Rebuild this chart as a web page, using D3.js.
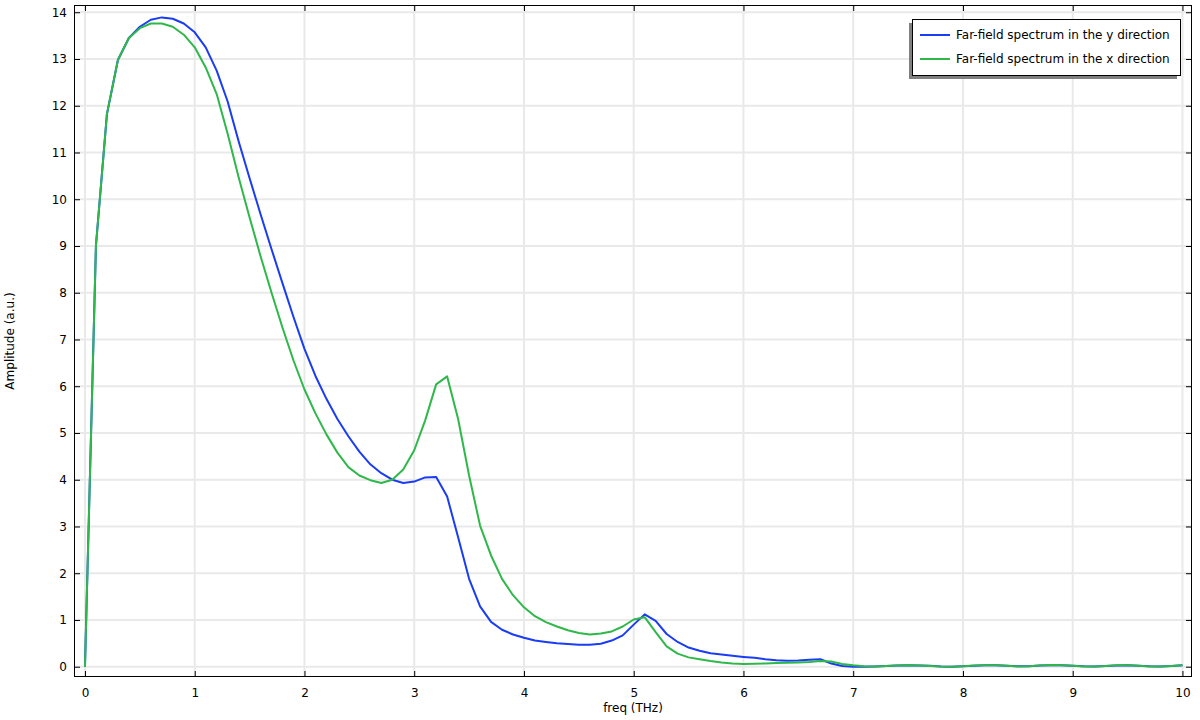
<!DOCTYPE html>
<meta charset="utf-8">
<style>
    body {
        margin: 0;
        background: #fff;
        font: 12px "DejaVu Sans", sans-serif;
    }
    .grid line {
        stroke: #e9e9e9;
        stroke-width: 2px;
    }
    .axis text {
        font: 12px "DejaVu Sans", sans-serif;
        fill: #000;
    }
    .axis line {
        stroke: #000;
    }
    .line {
        fill: none;
        stroke-width: 2px;
        stroke-linejoin: round;
    }
</style>
<body>
<script src="https://d3js.org/d3.v7.min.js"></script>
<script>
    // frequency samples (THz)
    const freq = [0, 0.1, 0.2, 0.3, 0.4, 0.5, 0.6, 0.7, 0.8, 0.9,
        1, 1.1, 1.2, 1.3, 1.4, 1.5, 1.6, 1.7, 1.8, 1.9,
        2, 2.1, 2.2, 2.3, 2.4, 2.5, 2.6, 2.7, 2.8, 2.9,
        3, 3.1, 3.2, 3.3, 3.4, 3.5, 3.6, 3.7, 3.8, 3.9,
        4, 4.1, 4.2, 4.3, 4.4, 4.5, 4.6, 4.7, 4.8, 4.9,
        5, 5.1, 5.2, 5.3, 5.4, 5.5, 5.6, 5.7, 5.8, 5.9,
        6, 6.1, 6.2, 6.3, 6.4, 6.5, 6.6, 6.7, 6.8, 6.9,
        7, 7.1, 7.2, 7.3, 7.4, 7.5, 7.6, 7.7, 7.8, 7.9,
        8, 8.1, 8.2, 8.3, 8.4, 8.5, 8.6, 8.7, 8.8, 8.9,
        9, 9.1, 9.2, 9.3, 9.4, 9.5, 9.6, 9.7, 9.8, 9.9, 10]

    // far-field spectrum, y direction
    const ampY = [0, 9.01, 11.82, 12.98, 13.45, 13.69, 13.84, 13.89, 13.86, 13.76,
        13.57, 13.25, 12.75, 12.09, 11.24, 10.45, 9.68, 8.93, 8.2, 7.48,
        6.8, 6.22, 5.73, 5.3, 4.93, 4.6, 4.33, 4.14, 4.0, 3.93,
        3.96, 4.05, 4.06, 3.64, 2.77, 1.88, 1.29, 0.96, 0.79, 0.69,
        0.62, 0.56, 0.53, 0.5, 0.485, 0.47, 0.47, 0.49, 0.56, 0.67,
        0.9, 1.12, 0.98, 0.7, 0.53, 0.41, 0.34, 0.29, 0.26, 0.235,
        0.21, 0.19, 0.16, 0.14, 0.13, 0.135, 0.15, 0.16, 0.07, 0.015,
        0, 0, 0.005, 0.015, 0.025, 0.03, 0.028, 0.018, 0.006, 0,
        0.01, 0.022, 0.032, 0.03, 0.02, 0.008, 0.01, 0.024, 0.034, 0.03,
        0.02, 0.008, 0.004, 0.014, 0.028, 0.03, 0.02, 0.008, 0.004, 0.014, 0.03]

    // far-field spectrum, x direction
    const ampX = [0, 9.01, 11.82, 12.98, 13.45, 13.66, 13.76, 13.76, 13.69, 13.52,
        13.25, 12.82, 12.25, 11.4, 10.47, 9.61, 8.78, 8.0, 7.25, 6.55,
        5.93, 5.42, 4.97, 4.58, 4.27, 4.09, 3.99, 3.93, 4.0, 4.22,
        4.63, 5.27, 6.04, 6.21, 5.3, 4.09, 3.02, 2.38, 1.88, 1.53,
        1.27, 1.08, 0.955, 0.86, 0.78, 0.72, 0.69, 0.71, 0.755, 0.86,
        1.01, 1.06, 0.74, 0.435, 0.28, 0.2, 0.16, 0.12, 0.09, 0.07,
        0.06, 0.062, 0.068, 0.078, 0.084, 0.09, 0.1, 0.12, 0.11, 0.06,
        0.03, 0.01, 0.005, 0.015, 0.025, 0.032, 0.026, 0.016, 0.005, 0,
        0.01, 0.024, 0.034, 0.03, 0.02, 0.007, 0.01, 0.025, 0.035, 0.03,
        0.02, 0.007, 0.005, 0.015, 0.03, 0.032, 0.02, 0.007, 0.005, 0.015, 0.03]

    const seriesNames = ["Far-field spectrum in the y direction", "Far-field spectrum in the x direction"]
    const seriesColors = ["#1a3cf5", "#2eb84a"]
    const xTicks = [0, 1, 2, 3, 4, 5, 6, 7, 8, 9, 10]
    const yTicks = [0, 1, 2, 3, 4, 5, 6, 7, 8, 9, 10, 11, 12, 13, 14]

    const W = 1200, H = 720
    const plot = {left: 74, right: 1192, top: 5, bottom: 677}

    const x = d3.scaleLinear()
        .domain([-0.1, 10.087])
        .range([plot.left, plot.right])

    const y = d3.scaleLinear()
        .domain([-0.22, 14.155])
        .range([plot.bottom, plot.top])

    const svg = d3.select("body").append("svg")
        .attr("width", W)
        .attr("height", H)

    // grid
    const grid = svg.append("g").attr("class", "grid")
    grid.selectAll(".gx")
        .data(xTicks)
        .enter().append("line")
        .attr("x1", d => x(d)).attr("x2", d => x(d))
        .attr("y1", plot.top).attr("y2", plot.bottom)
    grid.selectAll(".gy")
        .data(yTicks)
        .enter().append("line")
        .attr("x1", plot.left).attr("x2", plot.right)
        .attr("y1", d => y(d)).attr("y2", d => y(d))

    // curves
    const line = d3.line()
        .x(d => x(d[0]))
        .y(d => y(d[1]))

    const series = [ampY, ampX].map(vals => freq.map((f, i) => [f, vals[i]]))

    svg.selectAll(".line")
        .data(series)
        .enter().append("path")
        .attr("class", "line")
        .attr("stroke", (d, i) => seriesColors[i])
        .attr("d", line)

    // axes, ticks point inward
    const gBottom = svg.append("g")
        .attr("class", "axis")
        .attr("transform", `translate(0,${plot.bottom})`)
        .call(d3.axisBottom(x).tickValues(xTicks).tickSizeInner(-6).tickSizeOuter(0).tickPadding(11))
    gBottom.select(".domain").remove()

    const gLeft = svg.append("g")
        .attr("class", "axis")
        .attr("transform", `translate(${plot.left},0)`)
        .call(d3.axisLeft(y).tickValues(yTicks).tickSizeInner(-6).tickSizeOuter(0).tickPadding(7))
    gLeft.select(".domain").remove()

    const gTop = svg.append("g")
        .attr("class", "axis")
        .attr("transform", `translate(0,${plot.top})`)
        .call(d3.axisTop(x).tickValues(xTicks).tickSizeInner(-6).tickSizeOuter(0).tickFormat(""))
    gTop.select(".domain").remove()

    const gRight = svg.append("g")
        .attr("class", "axis")
        .attr("transform", `translate(${plot.right},0)`)
        .call(d3.axisRight(y).tickValues(yTicks).tickSizeInner(-6).tickSizeOuter(0).tickFormat(""))
    gRight.select(".domain").remove()

    svg.append("rect")
        .attr("x", plot.left + 0.5)
        .attr("y", plot.top + 0.5)
        .attr("width", plot.right - plot.left - 1)
        .attr("height", plot.bottom - plot.top - 1)
        .attr("fill", "none")
        .attr("stroke", "#000")

    // axis titles
    svg.append("text")
        .attr("x", (plot.left + plot.right) / 2)
        .attr("y", 712)
        .attr("text-anchor", "middle")
        .text("freq (THz)")

    svg.append("text")
        .attr("transform", `translate(14,${(plot.top + plot.bottom) / 2}) rotate(-90)`)
        .attr("text-anchor", "middle")
        .text("Amplitude (a.u.)")

    // legend with a grey drop shadow
    const lg = {x: 912, y: 19, w: 268, h: 56}
    svg.append("rect")
        .attr("x", lg.x - 3).attr("y", lg.y + 4)
        .attr("width", lg.w).attr("height", lg.h)
        .attr("fill", "#808080")
    svg.append("rect")
        .attr("x", lg.x + 0.5).attr("y", lg.y + 0.5)
        .attr("width", lg.w).attr("height", lg.h)
        .attr("fill", "#fff")
        .attr("stroke", "#000")

    const items = svg.selectAll(".legend-item")
        .data(seriesNames)
        .enter().append("g")
        .attr("class", "legend-item")
        .attr("transform", (d, i) => `translate(${lg.x + 8},${lg.y + 16 + i * 24})`)
    items.append("line")
        .attr("x1", 0).attr("x2", 30)
        .attr("stroke", (d, i) => seriesColors[i])
        .attr("stroke-width", 2)
    items.append("text")
        .attr("x", 36)
        .attr("dy", "0.35em")
        .text(d => d)
</script>
